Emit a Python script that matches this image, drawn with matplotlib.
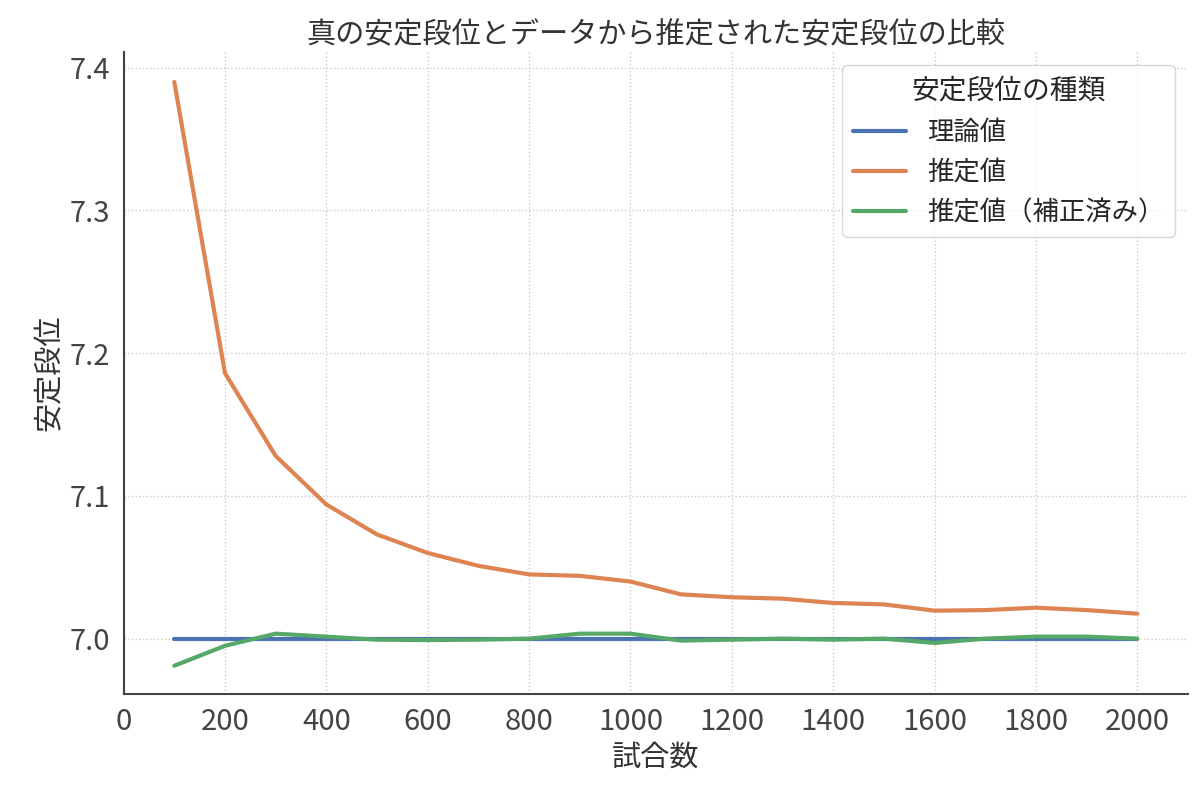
import matplotlib
matplotlib.use("Agg")
import matplotlib.pyplot as plt
import seaborn as sns

trials = list(range(100, 2001, 100))
theory = [7.0] * len(trials)
estimated = [7.390, 7.186, 7.128, 7.094, 7.073, 7.060, 7.051, 7.045, 7.044, 7.040,
             7.031, 7.029, 7.028, 7.025, 7.024, 7.0196, 7.020, 7.0217, 7.020, 7.0175]
corrected = [6.981, 6.995, 7.0035, 7.0014, 6.9993, 6.999, 6.9993, 7.000, 7.0035, 7.0035,
             6.9986, 6.9993, 7.000, 6.9993, 7.000, 6.997, 7.000, 7.0014, 7.0014, 7.000]

sns.set_theme(style="whitegrid", palette="deep")
plt.rcParams["font.family"] = ["Noto Sans CJK JP", "DejaVu Sans"]

fig, ax = plt.subplots(figsize=(12, 8), dpi=100)
ax.plot(trials, theory, lw=3, label="理論値")
ax.plot(trials, estimated, lw=3, label="推定値")
ax.plot(trials, corrected, lw=3, label="推定値（補正済み）")

ax.set_xlim(0, 2100)
ax.set_ylim(6.9615, 7.411)
ax.set_xticks(range(0, 2001, 200))
ax.set_yticks([7.0, 7.1, 7.2, 7.3, 7.4])
ax.tick_params(labelsize=21, colors="#444444")
ax.grid(True, linestyle=":", color="#cccccc")
for s in ["top", "right"]:
    ax.spines[s].set_visible(False)
for s in ["left", "bottom"]:
    ax.spines[s].set_color("#444444")
    ax.spines[s].set_linewidth(1.5)

ax.set_title("真の安定段位とデータから推定された安定段位の比較", fontsize=21, color="#333333")
ax.set_xlabel("試合数", fontsize=21, color="#333333")
ax.set_ylabel("安定段位", fontsize=21, color="#333333")
leg = ax.legend(title="安定段位の種類", fontsize=19, title_fontsize=20, loc="upper right")

fig.subplots_adjust(left=0.103, right=0.99, top=0.935, bottom=0.133)
fig.savefig("out.png", dpi=100)
